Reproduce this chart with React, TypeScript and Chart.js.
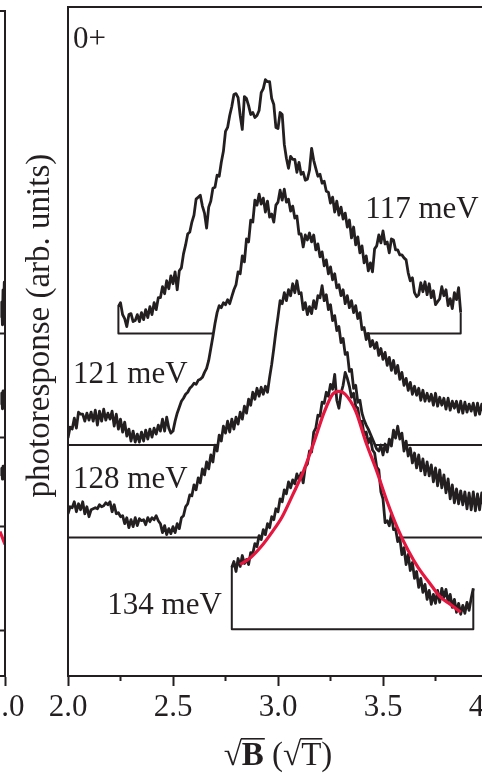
import React, { useEffect, useRef } from "react";
import { Chart, registerables } from "chart.js";

Chart.register(...registerables);

const FONT = '"Liberation Serif", "Times New Roman", serif';
const INK = "#231f20";
const RED = "#e5173f";

// ---- axis ----
const xTickValues = [2.0, 2.5, 3.0, 3.5, 4.0];
const minorTickValues = [2.25, 2.75, 3.25, 3.75];

// ---- traces (photoresponse above each trace's own baseline, sampled every 0.01 sqrt(T)) ----
const energyLabels = ["117 meV", "121 meV", "128 meV", "134 meV"];
const baselineOffsets = [3.44, 2.32, 1.39, 0.47];
const sweepStart = [2.24, 2.0, 2.0, 2.78];
const sweepEnd = [3.87, 4.0, 4.0, 3.93];
const closedEnds = [true, false, false, true];
const SAMPLE_STEP = 0.01;

const trace117 = [
  0.27, 0.31, 0.19, 0.15, 0.07, 0.19, 0.2, 0.12, 0.13, 0.19,
  0.12, 0.21, 0.14, 0.24, 0.16, 0.27, 0.19, 0.31, 0.24, 0.36,
  0.36, 0.47, 0.4, 0.53, 0.45, 0.58, 0.5, 0.62, 0.44, 0.63,
  0.66, 0.8, 0.89, 1.0, 1.02, 1.12, 1.19, 1.35, 1.37, 1.39,
  1.28, 1.21, 1.06, 1.27, 1.33, 1.46, 1.47, 1.59, 1.58, 1.72,
  1.83, 2.03, 2.07, 2.19, 2.28, 2.4, 2.41, 2.37, 2.19, 2.05,
  2.38, 2.36, 2.29, 2.2, 2.22, 2.17, 2.19, 2.24, 2.42, 2.46,
  2.55, 2.53, 2.53, 2.36, 2.3, 2.07, 2.06, 2.22, 2.2, 1.9,
  1.76, 1.66, 1.78, 1.75, 1.75, 1.62, 1.72, 1.6, 1.62, 1.54,
  1.55, 1.64, 1.86, 1.74, 1.66, 1.58, 1.6, 1.51, 1.53, 1.43,
  1.42, 1.31, 1.37, 1.22, 1.33, 1.19, 1.27, 1.15, 1.21, 1.07,
  1.14, 0.96, 1.07, 0.89, 0.97, 0.81, 0.88, 0.71, 0.78, 0.63,
  0.71, 0.62, 0.85, 0.88, 0.99, 0.91, 1.03, 0.9, 0.92, 0.81,
  0.95, 0.94, 0.84, 0.84, 0.79, 0.79, 0.76, 0.74, 0.61, 0.53,
  0.56, 0.41, 0.37, 0.39, 0.51, 0.42, 0.52, 0.39, 0.5, 0.36,
  0.43, 0.29, 0.32, 0.35, 0.47, 0.38, 0.44, 0.28, 0.35, 0.25,
  0.41, 0.34, 0.46, 0.21,
];

const trace121 = [
  0.07, 0.18, 0.16, 0.27, 0.17, 0.33, 0.31, 0.31, 0.24, 0.32,
  0.25, 0.33, 0.24, 0.35, 0.2, 0.34, 0.24, 0.36, 0.25, 0.32,
  0.26, 0.34, 0.19, 0.31, 0.16, 0.26, 0.13, 0.23, 0.09, 0.16,
  0.04, 0.14, 0.03, 0.11, 0.03, 0.13, 0.04, 0.15, 0.06, 0.16,
  0.08, 0.17, 0.11, 0.2, 0.14, 0.26, 0.14, 0.28, 0.17, 0.12,
  0.14, 0.24, 0.32, 0.38, 0.44, 0.47, 0.51, 0.53, 0.57, 0.59,
  0.62, 0.61, 0.65, 0.66, 0.68, 0.73, 0.77, 0.85, 0.97, 1.09,
  1.22, 1.33, 1.4, 1.38, 1.43, 1.41, 1.46, 1.42, 1.49, 1.56,
  1.61, 1.74, 1.72, 1.9, 1.84, 2.07, 2.04, 2.26, 2.24, 2.46,
  2.41, 2.52, 2.42, 2.48, 2.34, 2.45, 2.29, 2.32, 2.24, 2.41,
  2.44, 2.56, 2.46, 2.57, 2.44, 2.47, 2.35, 2.4, 2.28, 2.3,
  2.12, 2.12, 1.99, 2.11, 2.06, 2.13, 2.04, 2.11, 1.96, 2.02,
  1.89, 1.94, 1.8, 1.86, 1.72, 1.79, 1.66, 1.72, 1.58, 1.61,
  1.5, 1.56, 1.42, 1.5, 1.38, 1.45, 1.33, 1.4, 1.27, 1.33,
  1.16, 1.18, 1.06, 1.12, 0.99, 1.05, 0.97, 1.03, 0.9, 0.97,
  0.86, 0.93, 0.8, 0.88, 0.75, 0.85, 0.72, 0.8, 0.66, 0.73,
  0.6, 0.67, 0.55, 0.63, 0.51, 0.59, 0.5, 0.57, 0.45, 0.55,
  0.44, 0.52, 0.44, 0.51, 0.4, 0.52, 0.39, 0.48, 0.4, 0.47,
  0.36, 0.47, 0.35, 0.44, 0.37, 0.44, 0.33, 0.44, 0.32, 0.43,
  0.33, 0.41, 0.34, 0.42, 0.3, 0.42, 0.31, 0.41, 0.32,
];

const trace128 = [
  0.24, 0.31, 0.3, 0.36, 0.26, 0.34, 0.28, 0.36, 0.24, 0.31,
  0.21, 0.28, 0.29, 0.3, 0.29, 0.33, 0.31, 0.32, 0.35, 0.33,
  0.36, 0.26, 0.33, 0.24, 0.25, 0.21, 0.22, 0.14, 0.2, 0.1,
  0.18, 0.11, 0.2, 0.12, 0.19, 0.17, 0.18, 0.13, 0.2, 0.16,
  0.2, 0.18, 0.22, 0.17, 0.14, 0.05, 0.12, 0.03, 0.09, 0.04,
  0.11, 0.05, 0.14, 0.09, 0.2, 0.22, 0.31, 0.34, 0.43, 0.42,
  0.53, 0.48, 0.6, 0.55, 0.69, 0.63, 0.76, 0.69, 0.83, 0.76,
  0.93, 0.87, 1.03, 0.97, 1.12, 1.05, 1.17, 1.06, 1.19, 1.09,
  1.21, 1.14, 1.26, 1.19, 1.32, 1.25, 1.39, 1.33, 1.46, 1.39,
  1.5, 1.42, 1.51, 1.44, 1.52, 1.46, 1.61, 1.74, 1.9, 2.07,
  2.22, 2.38, 2.35, 2.46, 2.38, 2.49, 2.43, 2.55, 2.46, 2.58,
  2.45, 2.46, 2.29, 2.36, 2.24, 2.32, 2.25, 2.38, 2.3, 2.43,
  2.41, 2.53, 2.38, 2.44, 2.29, 2.34, 2.18, 2.23, 2.08, 2.12,
  1.96, 2.0, 1.84, 1.86, 1.67, 1.69, 1.5, 1.53, 1.36, 1.38,
  1.25, 1.18, 1.13, 1.09, 1.04, 0.99, 0.94, 0.89, 0.87, 0.93,
  0.83, 0.94, 0.86, 0.99, 0.92, 1.08, 1.0, 1.12, 0.99, 1.05,
  0.87, 0.97, 0.82, 0.9, 0.75, 0.85, 0.7, 0.83, 0.67, 0.79,
  0.63, 0.76, 0.62, 0.73, 0.56, 0.7, 0.52, 0.68, 0.5, 0.63,
  0.45, 0.59, 0.39, 0.53, 0.35, 0.49, 0.34, 0.47, 0.33, 0.46,
  0.29, 0.45, 0.28, 0.46, 0.27, 0.44, 0.28, 0.45, 0.3,
];

const trace134 = [
  0.62, 0.68, 0.58, 0.71, 0.63, 0.74, 0.66, 0.7, 0.65, 0.77,
  0.76, 0.86, 0.83, 0.94, 0.9, 1.0, 0.95, 1.06, 1.02, 1.13,
  1.1, 1.21, 1.18, 1.31, 1.28, 1.4, 1.36, 1.48, 1.42, 1.5,
  1.46, 1.56, 1.5, 1.57, 1.47, 1.63, 1.66, 1.79, 1.78, 1.98,
  2.02, 2.15, 2.14, 2.28, 2.27, 2.38, 2.34, 2.46, 2.41, 2.56,
  2.3, 2.22, 2.37, 2.45, 2.58, 2.52, 2.44, 2.33, 2.37, 2.24,
  2.22, 2.08, 2.09, 1.95, 1.98, 1.87, 1.92, 1.8, 1.77, 1.63,
  1.6, 1.38, 1.31, 1.07, 1.09, 1.04, 1.16, 1.0, 1.01, 0.88,
  0.92, 0.75, 0.82, 0.65, 0.75, 0.59, 0.67, 0.51, 0.58, 0.42,
  0.51, 0.37, 0.45, 0.3, 0.39, 0.25, 0.35, 0.26, 0.39, 0.27,
  0.41, 0.32, 0.4, 0.27, 0.35, 0.22, 0.3, 0.17, 0.26, 0.15,
  0.24, 0.16, 0.27, 0.19, 0.31, 0.41,
];

// ---- fit to the 134 meV trace ----
const fitX = [2.82, 2.87, 2.92, 2.97, 3.02, 3.07, 3.12, 3.17, 3.22, 3.26, 3.29, 3.32,
  3.37, 3.42, 3.47, 3.52, 3.57, 3.62, 3.67, 3.72, 3.77, 3.82, 3.87];
const fitY = [0.65, 0.72, 0.83, 0.97, 1.13, 1.35, 1.58, 1.87, 2.18, 2.36, 2.39, 2.36,
  2.19, 1.87, 1.59, 1.28, 1.01, 0.79, 0.61, 0.47, 0.33, 0.25, 0.17];

// ---- neighbouring panel (only its right edge is visible) ----
const leftBaselines = [3.46, 2.41, 1.51, 0.46];
const leftStubX = [0.97, 0.975, 0.98, 0.985, 0.99, 0.995, 1.0];
const leftStubs = [
  [3.62, 3.78, 3.55, 3.9, 3.7, 3.98, 3.6],
  [2.74, 2.86, 2.7, 2.88, 2.76, 2.84, 2.72],
  [2.02, 2.1, 1.99, 2.12, 2.03, 2.08, 1.98],
];
const leftFitX = [0.96, 1.0];
const leftFitY = [1.46, 1.33];

// ---- text anchors (data units) ----
const labelAnchorX = [3.416, 2.024, 2.024, 2.187];
const labelAnchorY = [4.6, 2.94, 1.89, 0.62];
const panelTag = "0+";
const Y_TITLE = "photoresponse (arb. units)";

const traces = [trace117, trace121, trace128, trace134];
const FS = 31;
const PAD_BOTTOM = 45.8;

function tracePoints(k: number) {
  return traces[k].map((v, i) => ({
    x: +(sweepStart[k] + i * SAMPLE_STEP).toFixed(3),
    y: +(baselineOffsets[k] + v).toFixed(3),
  }));
}

function baselinePoints(k: number) {
  const t = traces[k];
  const o = baselineOffsets[k];
  if (closedEnds[k]) {
    return [
      { x: sweepStart[k], y: o + t[0] },
      { x: sweepStart[k], y: o },
      { x: sweepEnd[k], y: o },
      { x: sweepEnd[k], y: o + t[t.length - 1] },
    ];
  }
  return [
    { x: sweepStart[k], y: o },
    { x: sweepEnd[k], y: o },
  ];
}

const xAxis = (min: number, max: number, values: number[]) => ({
  type: "linear" as const,
  min,
  max,
  position: "bottom" as const,
  afterBuildTicks: (s: any) => {
    s.ticks = values.map((v) => ({ value: v }));
  },
  ticks: {
    autoSkip: false,
    maxRotation: 0,
    padding: 3,
    color: INK,
    font: { family: FONT, size: FS },
    callback: (v: any) => Number(v).toFixed(1),
  },
  grid: {
    drawOnChartArea: false,
    drawTicks: true,
    tickLength: 10,
    tickWidth: 2,
    tickColor: INK,
    color: INK,
  },
  border: { display: true, color: INK, width: 2 },
});

const mainPlugin = {
  id: "mainFrame",
  afterDraw(chart: any) {
    const { ctx, chartArea: a, scales } = chart;
    const x = scales.x;
    const y = scales.y;
    ctx.save();
    ctx.strokeStyle = INK;
    ctx.lineWidth = 2;
    ctx.beginPath();
    ctx.moveTo(a.left, a.bottom);
    ctx.lineTo(a.left, a.top);
    ctx.lineTo(a.right + 40, a.top);
    ctx.stroke();
    ctx.beginPath();
    minorTickValues.forEach((v) => {
      const px = x.getPixelForValue(v);
      ctx.moveTo(px, a.bottom);
      ctx.lineTo(px, a.bottom + 5);
    });
    ctx.stroke();

    ctx.fillStyle = INK;
    ctx.font = `${FS}px ${FONT}`;
    ctx.textAlign = "left";
    ctx.textBaseline = "alphabetic";
    energyLabels.forEach((t, i) => {
      ctx.fillText(t, x.getPixelForValue(labelAnchorX[i]), y.getPixelForValue(labelAnchorY[i]));
    });
    ctx.fillText(panelTag, x.getPixelForValue(2.024), y.getPixelForValue(6.31));

    // y title
    ctx.save();
    ctx.font = `33px ${FONT}`;
    ctx.translate(a.left - 19, y.getPixelForValue(3.52));
    ctx.rotate(-Math.PI / 2);
    ctx.textAlign = "center";
    ctx.fillText(Y_TITLE, 0, 0);
    ctx.restore();

    // x title: sqrt(B) (sqrt(T))
    const XFS = 33;
    const parts = [
      { t: "\u221A", bold: false, over: false },
      { t: "B", bold: true, over: true },
      { t: " (", bold: false, over: false },
      { t: "\u221A", bold: false, over: false },
      { t: "T", bold: false, over: true },
      { t: ")", bold: false, over: false },
    ];
    const fontOf = (b: boolean) => `${b ? "bold " : ""}${XFS}px ${FONT}`;
    let total = 0;
    const widths = parts.map((p) => {
      ctx.font = fontOf(p.bold);
      const w = ctx.measureText(p.t).width;
      total += w;
      return w;
    });
    ctx.font = fontOf(false);
    const radTop = ctx.measureText("\u221A").actualBoundingBoxAscent;
    const base = a.bottom + 89;
    let cx = x.getPixelForValue(3.0) - total / 2;
    ctx.lineWidth = 1.6;
    parts.forEach((p, i) => {
      ctx.font = fontOf(p.bold);
      ctx.fillText(p.t, cx, base);
      if (p.over) {
        ctx.beginPath();
        ctx.moveTo(cx - 1, base - radTop + 0.8);
        ctx.lineTo(cx + widths[i] + 1, base - radTop + 0.8);
        ctx.stroke();
      }
      cx += widths[i];
    });
    ctx.restore();
  },
};

const leftPlugin = {
  id: "leftFrame",
  afterDraw(chart: any) {
    const { ctx, chartArea: a } = chart;
    ctx.save();
    ctx.strokeStyle = INK;
    ctx.lineWidth = 2;
    ctx.beginPath();
    ctx.moveTo(a.left - 20, a.top);
    ctx.lineTo(a.right, a.top);
    ctx.lineTo(a.right, a.bottom);
    ctx.stroke();
    ctx.restore();
  },
};

export default function App() {
  const mainRef = useRef<HTMLCanvasElement | null>(null);
  const leftRef = useRef<HTMLCanvasElement | null>(null);

  useEffect(() => {
    if (!mainRef.current || !leftRef.current) return;

    const datasets: any[] = [];
    traces.forEach((_, k) => {
      datasets.push({
        label: energyLabels[k],
        data: tracePoints(k),
        borderColor: INK,
        borderWidth: 2.8,
        backgroundColor: "#ffffff",
        fill: k === 0 ? false : { value: baselineOffsets[k] },
        pointRadius: 0,
        tension: 0,
        order: 8 - 2 * k,
      });
      datasets.push({
        label: energyLabels[k] + " baseline",
        data: baselinePoints(k),
        borderColor: INK,
        borderWidth: 2,
        fill: false,
        pointRadius: 0,
        tension: 0,
        order: 7 - 2 * k,
      });
    });
    datasets.push({
      label: "fit",
      data: fitX.map((v, i) => ({ x: v, y: baselineOffsets[3] + fitY[i] })),
      borderColor: RED,
      borderWidth: 3.2,
      fill: false,
      pointRadius: 0,
      cubicInterpolationMode: "monotone",
      order: 0,
    });

    const main = new Chart(mainRef.current, {
      type: "line",
      data: { datasets },
      options: {
        animation: false,
        responsive: false,
        devicePixelRatio: 1,
        layout: { padding: { left: 68, right: 42, top: 7, bottom: PAD_BOTTOM } },
        plugins: { legend: { display: false }, tooltip: { enabled: false } },
        elements: { line: { borderJoinStyle: "round", borderCapStyle: "butt" } },
        scales: {
          x: xAxis(2, 4, xTickValues) as any,
          y: { type: "linear", min: 0, max: 6.72, display: false },
        },
      },
      plugins: [mainPlugin],
    });

    const leftSets: any[] = [];
    leftBaselines.forEach((b) => {
      leftSets.push({
        data: [{ x: 0.6, y: b }, { x: 1.0, y: b }],
        borderColor: INK,
        borderWidth: 2,
        pointRadius: 0,
        fill: false,
      });
    });
    leftStubs.forEach((s) => {
      leftSets.push({
        data: s.map((v, i) => ({ x: leftStubX[i], y: v })),
        borderColor: INK,
        borderWidth: 3,
        pointRadius: 0,
        fill: false,
      });
    });
    leftSets.push({
      data: leftFitX.map((v, i) => ({ x: v, y: leftFitY[i] })),
      borderColor: RED,
      borderWidth: 3.2,
      pointRadius: 0,
      fill: false,
    });

    const left = new Chart(leftRef.current, {
      type: "line",
      data: { datasets: leftSets },
      options: {
        animation: false,
        responsive: false,
        devicePixelRatio: 1,
        layout: { padding: { left: 10, right: 35, top: 11, bottom: PAD_BOTTOM } },
        plugins: { legend: { display: false }, tooltip: { enabled: false } },
        elements: { line: { borderJoinStyle: "round" } },
        scales: {
          x: xAxis(0.5, 1.0, [0.5, 1.0]) as any,
          y: { type: "linear", min: 0, max: 6.72, display: false },
        },
      },
      plugins: [leftPlugin],
    });

    return () => {
      main.destroy();
      left.destroy();
    };
  }, []);

  return (
    <div
      style={{
        position: "fixed",
        left: 0,
        top: 0,
        width: 482,
        height: 775,
        overflow: "hidden",
        background: "#ffffff",
      }}
    >
      <canvas ref={leftRef} width={120} height={775} style={{ position: "absolute", left: -80, top: 0 }} />
      <canvas ref={mainRef} width={530} height={775} style={{ position: "absolute", left: 0, top: 0 }} />
    </div>
  );
}
